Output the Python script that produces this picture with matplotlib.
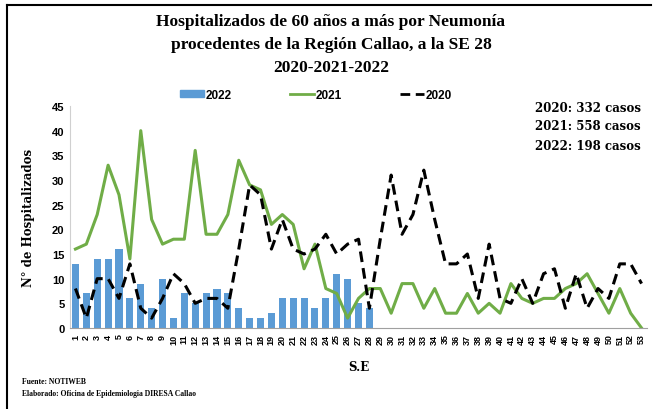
import numpy as np
import matplotlib
matplotlib.use("Agg")
import matplotlib.pyplot as plt
from matplotlib.lines import Line2D
from matplotlib.patches import Patch

# epidemiological weeks
weeks = list(range(1, 54))

# 2022 hospitalizations (up to SE 28)
h2022 = [13, 7, 14, 14, 16, 6, 9, 4, 10, 2, 7, 5, 7, 8, 7, 4, 2, 2, 3, 6,
         6, 6, 4, 6, 11, 10, 5, 4]

# 2021 hospitalizations
h2021 = [16, 17, 23, 33, 27, 14, 40, 22, 17, 18, 18, 36, 19, 19, 23, 34, 29, 28, 21, 23,
         21, 12, 17, 8, 7, 2, 6, 8, 8, 3, 9, 9, 4, 8, 3, 3, 7, 3, 5, 3,
         9, 6, 5, 6, 6, 8, 9, 11, 7, 3, 8, 3, 0]

# 2020 hospitalizations
h2020 = [8, 2, 10, 10, 6, 13, 4, 2, 6, 11, 9, 5, 6, 6, 4, 16, 29, 27, 16, 22,
         16, 15, 16, 19, 15, 17, 18, 4, 18, 31, 19, 23, 32, 22, 13, 13, 15, 6, 17, 6,
         5, 10, 5, 11, 12, 4, 11, 4, 8, 6, 13, 13, 9]

totals = ["2020: 332 casos", "2021: 558 casos", "2022: 198 casos"]

blue = "#5b9bd5"
green = "#70ad47"
dash = (0, (3.5, 2))

fig = plt.figure(figsize=(6.56, 4.10), dpi=100)
ax = fig.add_axes([70 / 656, 81 / 410, 577 / 656, 222 / 410])

ax.bar(weeks[:len(h2022)], h2022, width=0.65, color=blue, zorder=1)
ax.plot(weeks, h2021, color=green, lw=2.2, zorder=2)
ax.plot(weeks, h2020, color="black", lw=2.2, ls=dash, zorder=3)

ax.set_xlim(0.5, 53.5)
ax.set_ylim(0, 45)
ax.set_yticks(range(0, 46, 5))
ax.set_xticks(weeks)
ax.set_xticklabels([str(w) for w in weeks], rotation=90, fontsize=6.5,
                   fontweight="bold", family="Liberation Sans")
for lbl in ax.get_yticklabels():
    lbl.set_fontsize(8)
    lbl.set_fontweight("bold")
    lbl.set_family("Liberation Sans")
ax.tick_params(length=0, pad=4)

for s in ["top", "right"]:
    ax.spines[s].set_visible(False)
ax.spines["left"].set_color("#d0d0d0")
ax.spines["bottom"].set_color("#a0a0a0")

ax.set_ylabel("N° de Hospitalizados", family="DejaVu Serif", fontweight="bold",
              fontsize=8.5, labelpad=12)
ax.set_xlabel("S.E", family="DejaVu Serif", fontweight="bold", fontsize=8.5, labelpad=12)

# title
title_lines = ["Hospitalizados de 60 años a más por Neumonía",
               "procedentes de la Región Callao, a la SE 28",
               "2020-2021-2022"]
for i, line in enumerate(title_lines):
    fig.text(331 / 656, 1 - (22 + 23 * i) / 410, line, ha="center", va="center",
             family="Liberation Serif", fontweight="bold", fontsize=12.5)

# legend
handles = [Patch(color=blue), Line2D([], [], color=green, lw=2),
           Line2D([], [], color="black", lw=2, ls=dash)]
fig.legend(handles, ["2022", "2021", "2020"], loc="center", ncol=3,
           bbox_to_anchor=(316 / 656, 1 - 96 / 410), frameon=False,
           prop={"family": "Liberation Sans", "weight": "bold", "size": 8.5},
           handlelength=2.0, handleheight=0.5, handletextpad=0.1, columnspacing=5.0)

# totals
for i, t in enumerate(totals):
    fig.text(641 / 656, 1 - (108 + 19 * i) / 410, t, ha="right", va="center",
             family="DejaVu Serif", fontweight="bold", fontsize=8.5)

# footer
fig.text(22 / 656, 1 - 382 / 410, "Fuente: NOTIWEB", family="Liberation Serif",
         fontweight="bold", fontsize=5.5, va="center")
fig.text(22 / 656, 1 - 394 / 410, "Elaborado: Oficina de Epidemiologia DIRESA Callao",
         family="Liberation Serif", fontweight="bold", fontsize=5.5, va="center")

# frame lines (left and top)
fig.add_artist(Line2D([7 / 656, 7 / 656], [0, 1 - 6 / 410], color="black", lw=1.5,
                      transform=fig.transFigure))
fig.add_artist(Line2D([7 / 656, 651 / 656], [1 - 6 / 410, 1 - 6 / 410], color="black",
                      lw=1.5, transform=fig.transFigure))

fig.savefig("out.png", dpi=100)
